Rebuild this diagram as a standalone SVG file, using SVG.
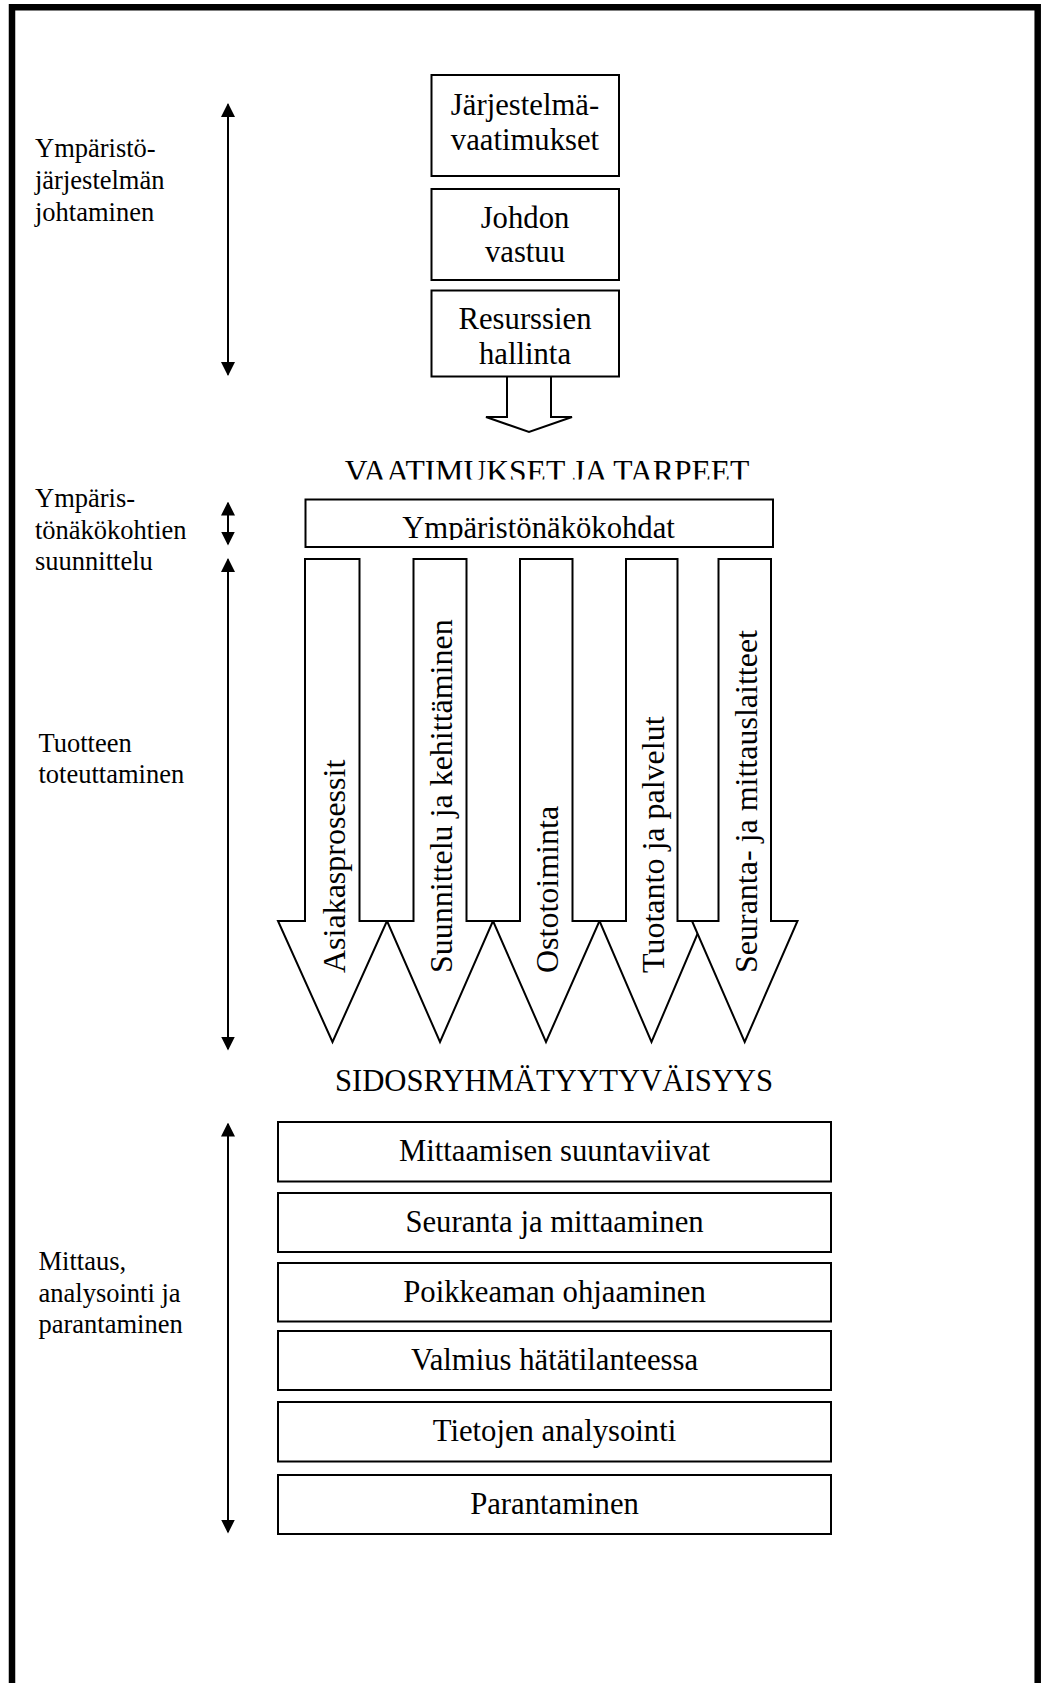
<svg xmlns="http://www.w3.org/2000/svg" width="1041" height="1683" viewBox="0 0 1041 1683">
<style>
text{font-family:"Liberation Serif","Times New Roman",serif;fill:#000}
.lbl{font-size:26.5px}
.bx{font-size:30.7px;text-anchor:middle}
.rt{font-size:32px}
.box{fill:#fff;stroke:#000;stroke-width:2}
.arr{fill:#fff;stroke:#000;stroke-width:2;stroke-linejoin:miter}
.dbl{stroke:#000;stroke-width:2;fill:none;marker-start:url(#ah);marker-end:url(#ah)}
</style>
<defs>
<marker id="ah" markerUnits="userSpaceOnUse" markerWidth="14" markerHeight="14" refX="12.5" refY="7" orient="auto-start-reverse">
<path d="M0,0 L14,7 L0,14 z" fill="#000"/>
</marker>
<clipPath id="clipV"><rect x="300" y="440" width="500" height="39.5"/></clipPath>
<clipPath id="clipY"><rect x="300" y="500" width="480" height="40"/></clipPath>
</defs>
<rect width="1041" height="1683" fill="#fff"/>
<path d="M12,1683 V7.3 H1037.7 V1683" fill="none" stroke="#000" stroke-width="6.5"/>

<g id="labels">
<text class="lbl" x="35" y="157">Ympäristö-</text>
<text class="lbl" x="35" y="189">järjestelmän</text>
<text class="lbl" x="35" y="221">johtaminen</text>
<text class="lbl" x="35" y="507">Ympäris-</text>
<text class="lbl" x="35" y="538.5">tönäkökohtien</text>
<text class="lbl" x="35" y="570">suunnittelu</text>
<text class="lbl" x="38.5" y="752">Tuotteen</text>
<text class="lbl" x="38.5" y="783">toteuttaminen</text>
<text class="lbl" x="38.5" y="1270">Mittaus,</text>
<text class="lbl" x="38.5" y="1302">analysointi ja</text>
<text class="lbl" x="38.5" y="1333">parantaminen</text>
</g>

<g id="connectors">
<line class="dbl" x1="228" y1="104.5" x2="228" y2="374.5"/>
<line class="dbl" x1="228" y1="503" x2="228" y2="544"/>
<line class="dbl" x1="228" y1="559.5" x2="228" y2="1049"/>
<line class="dbl" x1="228" y1="1124" x2="228" y2="1532"/>
<polygon class="arr" points="507,376 551,376 551,417 572,417 529,432 486,417 507,417"/>
</g>

<g id="n-jarjestelmavaatimukset">
<rect class="box" x="431.5" y="75" width="187.5" height="101"/>
<text class="bx" x="525" y="115">Järjestelmä-</text>
<text class="bx" x="525" y="150">vaatimukset</text>
</g>
<g id="n-johdon-vastuu">
<rect class="box" x="431.5" y="189" width="187.5" height="91"/>
<text class="bx" x="525" y="228">Johdon</text>
<text class="bx" x="525" y="262">vastuu</text>
</g>
<g id="n-resurssien-hallinta">
<rect class="box" x="431.5" y="290.5" width="187.5" height="86"/>
<text class="bx" x="525" y="329">Resurssien</text>
<text class="bx" x="525" y="364">hallinta</text>
</g>

<g id="n-vaatimukset-ja-tarpeet">
<text class="bx" x="547" y="481.5" style="font-size:31.6px" clip-path="url(#clipV)">VAATIMUKSET JA TARPEET</text>
</g>

<g id="n-ymparistonakokohdat">
<rect class="box" x="305.5" y="499.5" width="467.5" height="47.5"/>
<text class="bx" x="538.5" y="538" clip-path="url(#clipY)">Ympäristönäkökohdat</text>
</g>

<g id="n-asiakasprosessit">
<polygon class="arr" points="305,559 359.5,559 359.5,921 387,921 332.5,1042 278,921 305,921"/>
<text class="rt" transform="translate(344.5,973) rotate(-90)">Asiakasprosessit</text>
</g>
<g id="n-suunnittelu">
<polygon class="arr" points="413.5,559 466.5,559 466.5,921 493,921 440,1042 387,921 413.5,921"/>
<text class="rt" transform="translate(452,973) rotate(-90)">Suunnittelu ja kehittäminen</text>
</g>
<g id="n-ostotoiminta">
<polygon class="arr" points="520,559 572.5,559 572.5,921 599.5,921 546,1042 493,921 520,921"/>
<text class="rt" transform="translate(558,973) rotate(-90)">Ostotoiminta</text>
</g>
<g id="n-tuotanto">
<polygon class="arr" points="626,559 677.5,559 677.5,921 703,921 651.5,1042 599.5,921 626,921"/>
<text class="rt" transform="translate(663.5,973) rotate(-90)">Tuotanto ja palvelut</text>
</g>
<g id="n-seuranta">
<polygon class="arr" points="718.5,559 771,559 771,921 797.5,921 744.7,1042 692,921 718.5,921"/>
<text class="rt" transform="translate(756.5,973) rotate(-90)">Seuranta- ja mittauslaitteet</text>
</g>

<g id="n-sidosryhmatyytyvaisyys">
<text class="bx" x="554" y="1091">SIDOSRYHMÄTYYTYVÄISYYS</text>
</g>

<g id="n-mittaamisen-suuntaviivat">
<rect class="box" x="278" y="1122" width="553" height="59.5"/>
<text class="bx" x="554.5" y="1161">Mittaamisen suuntaviivat</text>
</g>
<g id="n-seuranta-ja-mittaaminen">
<rect class="box" x="278" y="1193" width="553" height="59"/>
<text class="bx" x="554.5" y="1232">Seuranta ja mittaaminen</text>
</g>
<g id="n-poikkeaman-ohjaaminen">
<rect class="box" x="278" y="1263" width="553" height="58.5"/>
<text class="bx" x="554.5" y="1302">Poikkeaman ohjaaminen</text>
</g>
<g id="n-valmius">
<rect class="box" x="278" y="1331" width="553" height="59"/>
<text class="bx" x="554.5" y="1370">Valmius hätätilanteessa</text>
</g>
<g id="n-tietojen-analysointi">
<rect class="box" x="278" y="1402" width="553" height="59.5"/>
<text class="bx" x="554.5" y="1441">Tietojen analysointi</text>
</g>
<g id="n-parantaminen">
<rect class="box" x="278" y="1475" width="553" height="59"/>
<text class="bx" x="554.5" y="1514">Parantaminen</text>
</g>
</svg>
